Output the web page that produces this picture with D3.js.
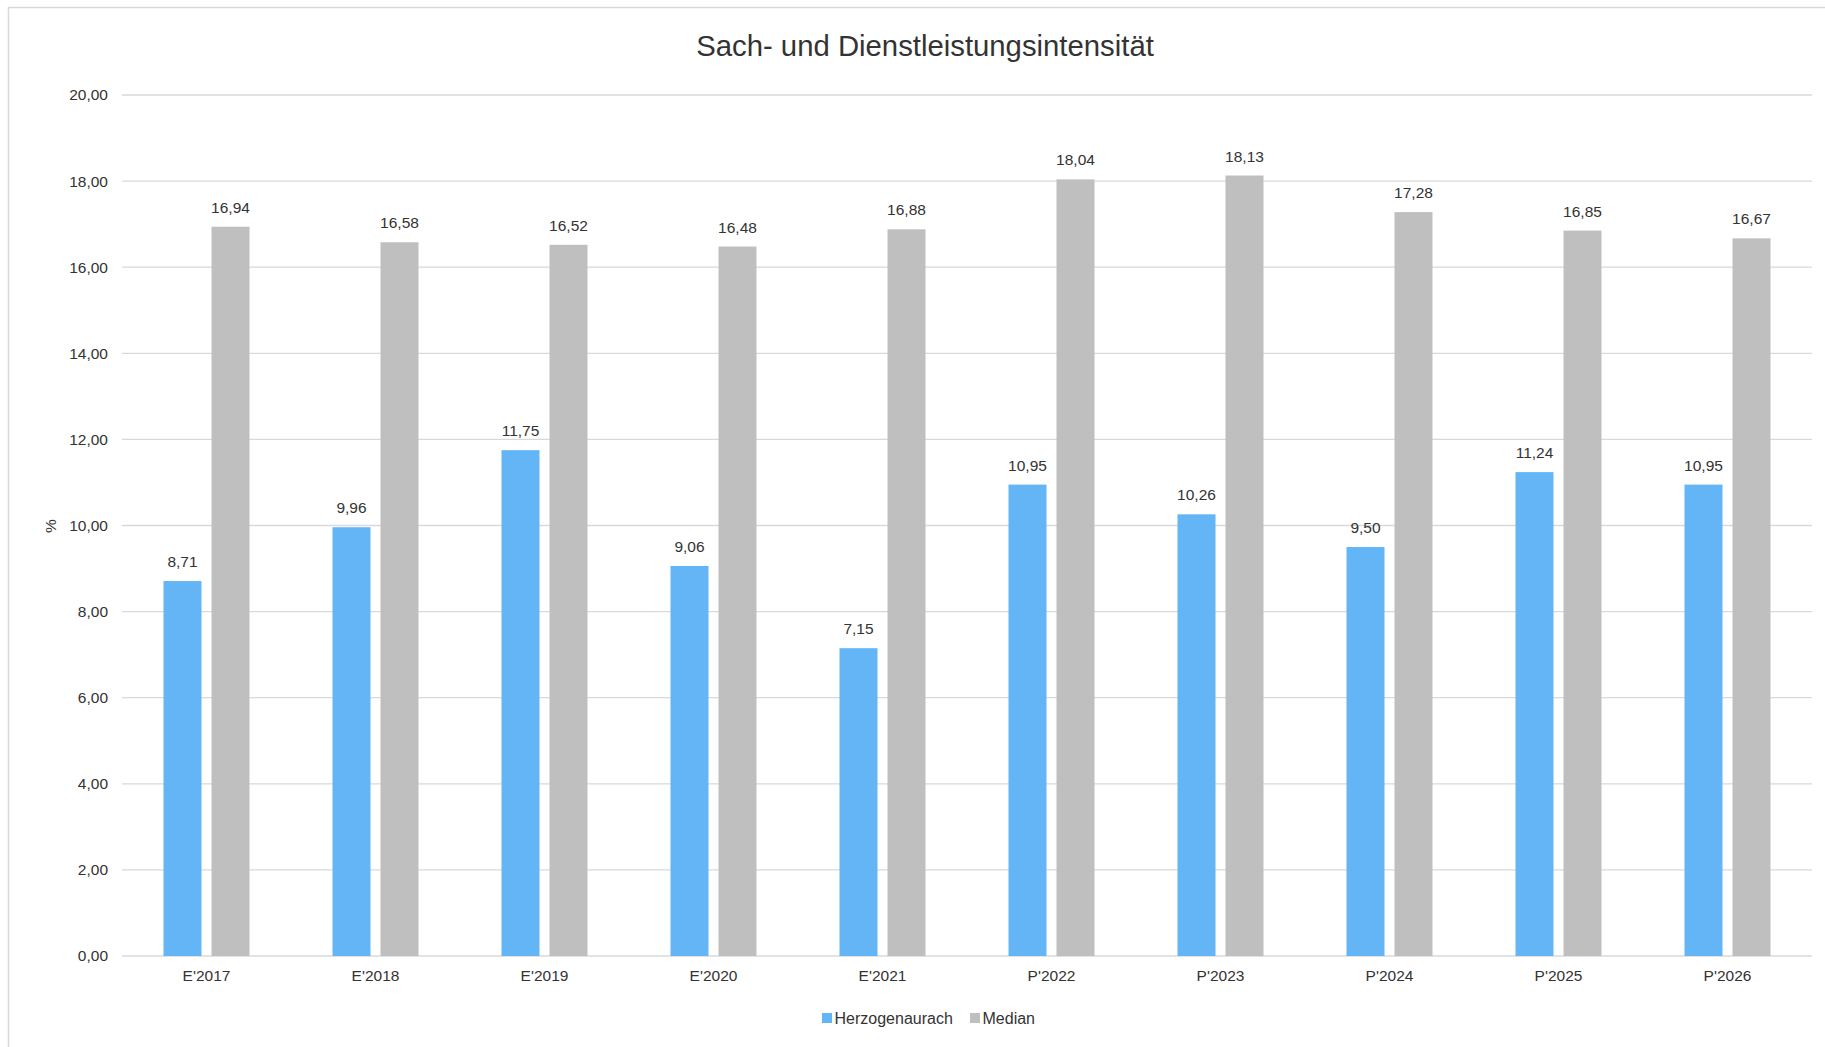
<!DOCTYPE html>
<html>
<head>
<meta charset="utf-8">
<script src="https://cdn.jsdelivr.net/npm/d3@7"></script>
<style>
  html, body { margin: 0; padding: 0; background: #fff; }
  svg { display: block; font-family: "Liberation Sans", Arial, sans-serif; }
</style>
</head>
<body>
<svg id="chart" width="1825" height="1047"></svg>
<script>
const categories = ["E'2017", "E'2018", "E'2019", "E'2020", "E'2021", "P'2022", "P'2023", "P'2024", "P'2025", "P'2026"];
const seriesNames = ["Herzogenaurach", "Median"];
const herzogenaurach = [8.71, 9.96, 11.75, 9.06, 7.15, 10.95, 10.26, 9.50, 11.24, 10.95];
const median = [16.94, 16.58, 16.52, 16.48, 16.88, 18.04, 18.13, 17.28, 16.85, 16.67];
const yTicks = [0, 2, 4, 6, 8, 10, 12, 14, 16, 18, 20];
const colors = ["#64B5F6", "#BFBFBF"];
const title = "Sach- und Dienstleistungsintensität";
const yLabel = "%";

(function () {
const seriesValues = [herzogenaurach, median];
const fmt = v => v.toFixed(2).replace(".", ",");
const textColor = "#333333";

const svg = d3.select("#chart");
const W = 1825, H = 1047;
const mLeft = 122, mRight = 1812, mTop = 95, mBottom = 956;

// outer border
svg.append("rect").attr("x", 8.5).attr("y", 7.5).attr("width", W).attr("height", H)
  .attr("fill", "#fff").attr("stroke", "#d9d9d9").attr("stroke-width", 1.5);

const x0 = d3.scaleBand().domain(categories).range([mLeft, mRight]).padding(0);
const x1 = d3.scaleBand().domain(seriesNames).range([-43, 43]).paddingInner(0.2083);
const y = d3.scaleLinear().domain([0, 20]).range([mBottom, mTop]);

// gridlines
svg.append("g").selectAll("line").data(yTicks).join("line")
  .attr("x1", mLeft).attr("x2", mRight)
  .attr("y1", d => y(d)).attr("y2", d => y(d))
  .attr("stroke", "#d9d9d9").attr("stroke-width", 1.3);

// y axis labels
const yAxis = d3.axisLeft(y).tickValues(yTicks).tickFormat(fmt).tickSize(0).tickPadding(14);
const gy = svg.append("g").attr("transform", `translate(${mLeft},0)`).call(yAxis);
gy.select(".domain").remove();
gy.selectAll("text").attr("font-size", "15.5px").attr("fill", textColor)
  .attr("font-family", "'Liberation Sans', Arial, sans-serif");

// x axis labels
const xAxis = d3.axisBottom(x0).tickSize(0).tickPadding(14);
const gx = svg.append("g").attr("transform", `translate(0,${mBottom})`).call(xAxis);
gx.select(".domain").remove();
gx.selectAll("text").attr("font-size", "15.5px").attr("fill", textColor)
  .attr("font-family", "'Liberation Sans', Arial, sans-serif");

// bars
const data = [];
categories.forEach((c, i) => {
  seriesNames.forEach((s, j) => data.push({ cat: c, series: s, value: seriesValues[j][i], color: colors[j] }));
});
const cx = d => x0(d.cat) + x0.bandwidth() / 2 + x1(d.series);
svg.append("g").selectAll("rect").data(data).join("rect")
  .attr("x", d => cx(d))
  .attr("y", d => y(d.value))
  .attr("width", x1.bandwidth())
  .attr("height", d => y(0) - y(d.value))
  .attr("fill", d => d.color);

// value labels
svg.append("g").selectAll("text").data(data).join("text")
  .attr("x", d => cx(d) + x1.bandwidth() / 2)
  .attr("y", d => y(d.value) - 14)
  .attr("text-anchor", "middle")
  .attr("font-size", "15.5px").attr("fill", textColor)
  .text(d => fmt(d.value));

// title
svg.append("text").attr("x", 925).attr("y", 56).attr("text-anchor", "middle")
  .attr("font-size", "29.3px").attr("fill", textColor).text(title);

// y label
svg.append("text").attr("transform", "translate(56,526) rotate(-90)")
  .attr("text-anchor", "middle").attr("font-size", "15.5px").attr("fill", textColor).text(yLabel);

// legend
const legendItems = [{ name: seriesNames[0], color: colors[0], x: 822 }, { name: seriesNames[1], color: colors[1], x: 970 }];
const lg = svg.append("g");
legendItems.forEach(it => {
  lg.append("rect").attr("x", it.x).attr("y", 1013).attr("width", 10).attr("height", 10).attr("fill", it.color);
  lg.append("text").attr("x", it.x + 12.5).attr("y", 1024).attr("font-size", "16px").attr("fill", textColor).text(it.name);
});
})();
</script>
</body>
</html>
